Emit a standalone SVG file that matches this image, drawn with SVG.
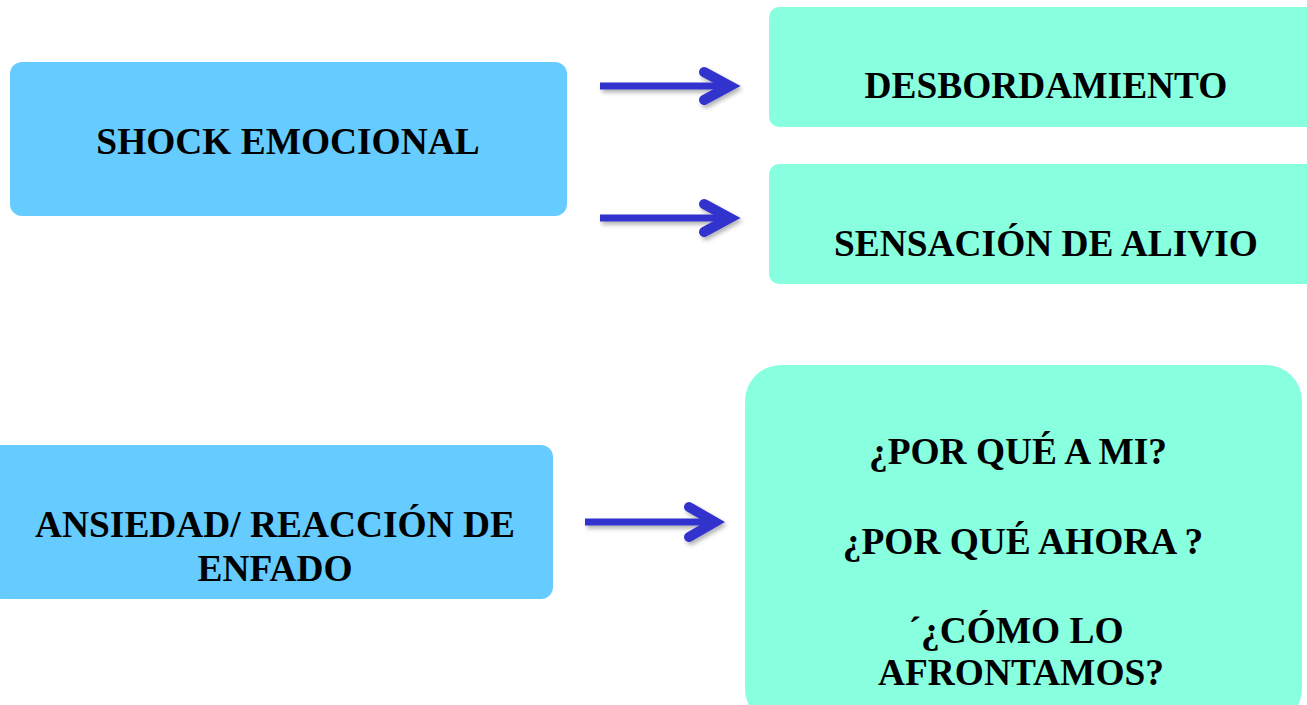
<svg xmlns="http://www.w3.org/2000/svg" width="1307" height="705" viewBox="0 0 1307 705">
<defs>
<style>
.blue{fill:#66CCFF}
.green{fill:#88FFDF}
.t{font-family:"Liberation Serif","Times New Roman",serif;font-weight:bold;font-size:37.4px;fill:#000;text-anchor:middle}
.shaft{stroke:#3333CC;stroke-width:7;fill:none}
.head{stroke:#3333CC;stroke-width:10;fill:none;stroke-linecap:round;stroke-linejoin:miter}
</style>
<filter id="sh" x="-10%" y="-50%" width="130%" height="200%">
<feDropShadow dx="2" dy="3" stdDeviation="2" flood-color="#000" flood-opacity="0.3"/>
</filter>
</defs>
<rect width="1307" height="705" fill="#fff"/>
<g id="shock">
<rect class="blue" x="10" y="62" width="557" height="154" rx="12"/>
<text class="t" x="288" y="154">SHOCK EMOCIONAL</text>
</g>
<g id="desbordamiento">
<rect class="green" x="769" y="7" width="560" height="120" rx="10"/>
<text class="t" x="1046" y="98">DESBORDAMIENTO</text>
</g>
<g id="alivio">
<rect class="green" x="769" y="164" width="560" height="120" rx="10"/>
<text class="t" x="1046" y="256">SENSACIÓN DE ALIVIO</text>
</g>
<g id="ansiedad">
<rect class="blue" x="-10" y="445" width="563" height="154" rx="12"/>
<text class="t" x="275" y="537">ANSIEDAD/ REACCIÓN DE</text>
<text class="t" x="275" y="581">ENFADO</text>
</g>
<g id="preguntas">
<rect class="green" x="745" y="365" width="557" height="360" rx="36"/>
<text class="t" x="1018" y="464">¿POR QUÉ A MI?</text>
<text class="t" x="1023" y="554">¿POR QUÉ AHORA ?</text>
<text class="t" x="1016" y="643">´¿CÓMO LO</text>
<text class="t" x="1021" y="685">AFRONTAMOS?</text>
</g>
<g id="connectors" filter="url(#sh)">
<line class="shaft" x1="600" y1="86" x2="728" y2="86"/>
<polyline class="head" points="704,72 730,86 704,100"/>
<line class="shaft" x1="600" y1="218" x2="728" y2="218"/>
<polyline class="head" points="704,204 730,218 704,232"/>
<line class="shaft" x1="585" y1="522" x2="713" y2="522"/>
<polyline class="head" points="689,507 715,522 689,537"/>
</g>
</svg>
